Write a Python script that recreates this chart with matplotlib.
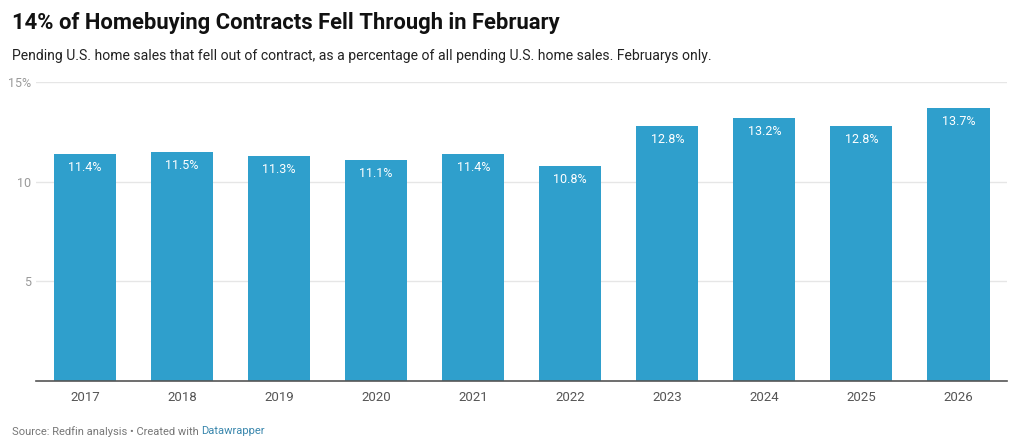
import matplotlib.pyplot as plt

years = ["2017", "2018", "2019", "2020", "2021", "2022", "2023", "2024", "2025", "2026"]
values = [11.4, 11.5, 11.3, 11.1, 11.4, 10.8, 12.8, 13.2, 12.8, 13.7]
y_ticks = [5, 10, 15]
y_tick_labels = ["5", "10", "15%"]

plt.rcParams['font.family'] = ['Roboto', 'DejaVu Sans']

fig = plt.figure(figsize=(10.27, 4.48), dpi=100)
ax = fig.add_axes([0.0355, 0.149, 0.945, 0.668])

x = range(len(years))
bars = ax.bar(x, values, width=0.64, color="#2f9fcc", zorder=3)
for xi, v in zip(x, values):
    ax.text(xi, v - 0.7, f"{v}%", ha="center", va="center",
            color="white", fontsize=9, zorder=4)

ax.set_xlim(-0.5, len(years) - 0.5)
ax.set_ylim(0, 15)
ax.set_yticks(y_ticks)
ax.set_yticklabels(y_tick_labels)
ax.set_xticks(list(x))
ax.set_xticklabels(years)
ax.yaxis.grid(True, color="#e6e6e6", linewidth=1, zorder=0)
ax.tick_params(axis="y", length=0, pad=4, labelsize=9, labelcolor="#999999")
ax.tick_params(axis="x", length=0, pad=7, labelsize=9.5, labelcolor="#555555")
for s in ["top", "right", "left"]:
    ax.spines[s].set_visible(False)
ax.spines["bottom"].set_color("#555555")
ax.spines["bottom"].set_linewidth(1.2)
ax.spines["bottom"].set_zorder(5)

fig.text(0.0117, 0.948, "14% of Homebuying Contracts Fell Through in February",
         fontsize=15.8, fontweight="bold", color="#111111", va="center")
fig.text(0.0117, 0.874, "Pending U.S. home sales that fell out of contract, as a percentage of all pending U.S. home sales. Februarys only.",
         fontsize=10.05, color="#222222", va="center")
src = fig.text(0.0117, 0.037, "Source: Redfin analysis \u2022 Created with ", fontsize=8,
               color="#777777", va="center")
fig.canvas.draw()
ax.annotate("Datawrapper", xy=(1, 0.5), xycoords=src, fontsize=8,
            color="#3a87ad", va="center", ha="left", annotation_clip=False)

fig.savefig("out.png", dpi=100, facecolor="white")
